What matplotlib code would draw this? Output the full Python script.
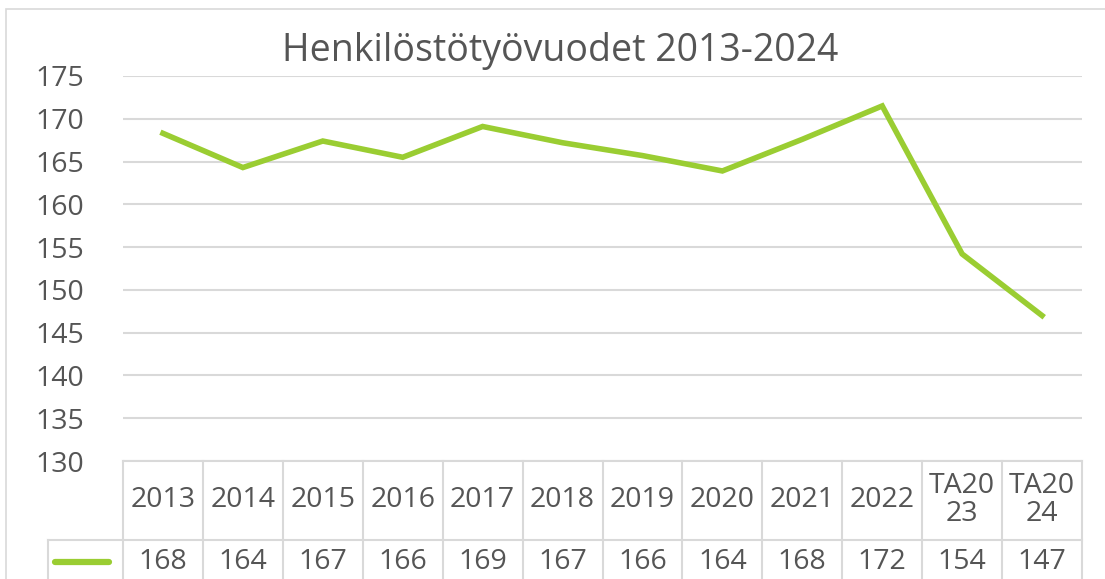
import matplotlib.pyplot as plt
from matplotlib.lines import Line2D
from matplotlib.patches import Rectangle

# data
categories = ['2013', '2014', '2015', '2016', '2017', '2018', '2019', '2020',
              '2021', '2022', 'TA20\n23', 'TA20\n24']
values = [168.3, 164.3, 167.4, 165.5, 169.1, 167.2, 165.7, 163.9,
          167.6, 171.5, 154.2, 147.0]
table_labels = ['168', '164', '167', '166', '169', '167', '166', '164',
                '168', '172', '154', '147']
yticks = [130, 135, 140, 145, 150, 155, 160, 165, 170, 175]

plt.rcParams['font.family'] = ['Open Sans', 'DejaVu Sans']
txt = '#555555'
grid = '#d9d9d9'
green = '#9acd32'

W, H = 1105, 579
fig = plt.figure(figsize=(W / 100, H / 100), dpi=100)

# outer chart frame
fig.add_artist(Rectangle((6 / W, -0.1), 1.2, 1 - 9 / H + 0.1, transform=fig.transFigure,
                         fill=False, edgecolor=grid, linewidth=1.2))

ax = fig.add_axes([123 / W, 1 - 461 / H, (1082 - 123) / W, (461 - 76) / H])
x = list(range(len(categories)))
ax.plot(x, values, color=green, linewidth=4, solid_joinstyle='miter')
ax.set_xlim(-0.5, len(categories) - 0.5)
ax.set_ylim(130, 175)
ax.set_yticks(yticks)
ax.set_xticks([])
ax.yaxis.grid(True, color=grid, linewidth=1.5)
ax.set_axisbelow(True)
for s in ax.spines.values():
    s.set_visible(False)
ax.tick_params(axis='y', length=0, pad=28, labelsize=20.5, labelcolor=txt)

fig.text(560 / W, 1 - 51 / H, 'Henkilöstötyövuodet 2013-2024', ha='center', va='center',
         fontsize=27, color=txt)

# data table below the plot
tr = ax.get_xaxis_transform()
hdr = -(540 - 461) / (461 - 76)
bot = -0.4
n = len(categories)
ax.add_line(Line2D([-0.5, n - 0.5], [0, 0], transform=tr, color=grid, lw=1.5, clip_on=False))
ax.add_line(Line2D([-1.44, n - 0.5], [hdr, hdr], transform=tr, color=grid, lw=1.5, clip_on=False))
for i in range(n + 1):
    ax.add_line(Line2D([i - 0.5, i - 0.5], [0, bot], transform=tr, color=grid, lw=1.5,
                       clip_on=False))
ax.add_line(Line2D([-1.44, -1.44], [hdr, bot], transform=tr, color=grid, lw=1.5, clip_on=False))
ax.add_line(Line2D([-1.35, -0.67], [-0.262, -0.262], transform=tr, color=green, lw=4.5,
                   solid_capstyle='round', clip_on=False))

for i, (c, v) in enumerate(zip(categories, table_labels)):
    ax.text(i, -0.101, c, transform=tr, ha='center', va='center', fontsize=20.5,
            color=txt, linespacing=1.0)
    ax.text(i, -0.262, v, transform=tr, ha='center', va='center', fontsize=20.5, color=txt)

fig.savefig('out.png', dpi=100)
